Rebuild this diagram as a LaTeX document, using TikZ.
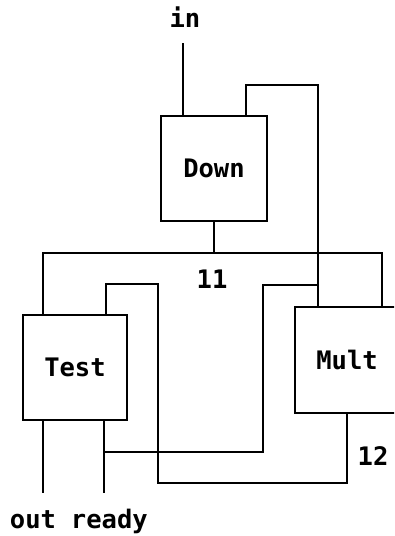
\documentclass[tikz,border=0pt]{standalone}
\usepackage{fontspec}
\setmonofont{DejaVu Sans Mono}
\usetikzlibrary{calc}
\begin{document}
\begin{tikzpicture}[x=1pt,y=-1pt,line width=1.9pt,line join=miter,
  txt/.style={font=\ttfamily\bfseries\fontsize{25.5}{30}\selectfont},
  blk/.style={draw,rectangle,inner sep=0pt,txt},
  lbl/.style={inner sep=0pt,txt,anchor=base}]
\useasboundingbox (0,0) rectangle (394,536);
\clip (0,0) rectangle (394,536);

% process boxes
\node[blk,minimum width=106,minimum height=105] (down) at (214,168.5) {Down};
\node[blk,minimum width=104,minimum height=105] (test) at (75,367.5) {Test};
\node[blk,minimum width=135,minimum height=106] (mult) at (362.5,360) {};
\node[inner sep=0pt,txt] (multtxt) at (347,360) {Mult};

% labels
\node[lbl] (inlbl) at (185,27) {in};
\node[lbl] (l1) at (212,288) {11};
\node[lbl] (l2) at (373,465) {12};
\node[lbl,anchor=base west] (outlbl) at (9,528) {out};
\node[lbl,anchor=base west] (readylbl) at (70,528) {ready};

% wire helpers
\coordinate (inpin) at (183,43);
\coordinate (fbtop) at (318,85);
\coordinate (busL) at (43,253);
\coordinate (busR) at (382,253);
\coordinate (lpA) at (106,284);
\coordinate (lpB) at (158,284);
\coordinate (lpC) at (158,483);
\coordinate (lpD) at (347,483);
\coordinate (outend) at (43,493);
\coordinate (readyend) at (104,493);
\coordinate (rb1) at (104,452);
\coordinate (rb2) at (263,452);
\coordinate (rb3) at (263,285);
\coordinate (rb4) at (318,285);

% input
\draw (inpin) -- (inpin |- down.north);
% Down feedback into Mult
\draw ($(down.north west)+(86,0)$) |- (fbtop) -- (mult.north -| fbtop);
% channel 11
\draw (down.south) -- (down.south |- busL);
\draw (test.north -| busL) -- (busL) -- (busR) -- (mult.north -| busR);
% channel 12
\draw (test.north -| lpA) -- (lpA) -- (lpB) -- (lpC) -- (lpD) -- (mult.south -| lpD);
% outputs
\draw (test.south -| outend) -- (outend);
\draw (test.south -| readyend) -- (readyend);
\draw (rb1) -- (rb2) -- (rb3) -- (rb4);
\end{tikzpicture}
\end{document}
